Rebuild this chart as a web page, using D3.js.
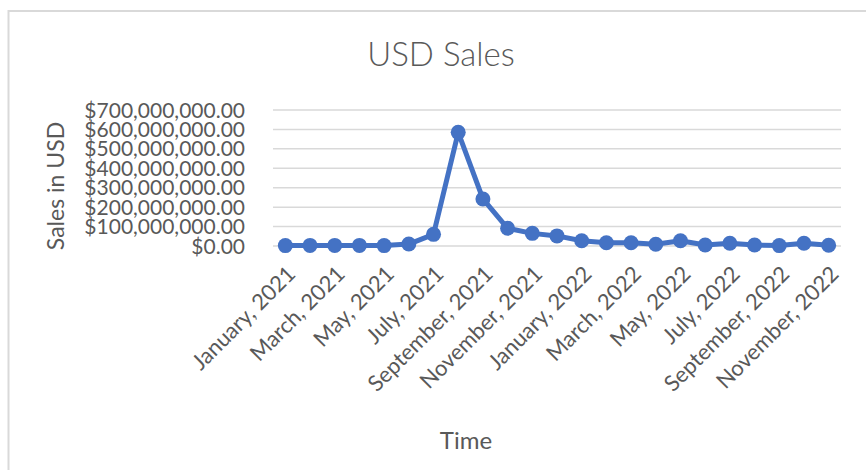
<!DOCTYPE html>
<html>
<head>
<meta charset="utf-8">
<script src="https://cdn.jsdelivr.net/npm/d3@7"></script>
<style>
  body { margin: 0; background: #fff; }
  text { font-family: Lato, "Open Sans", sans-serif; fill: #595959; }
</style>
</head>
<body>
<svg width="866" height="470"></svg>
<script>
// monthly USD sales, Jan 2021 .. Nov 2022
const months = ["January, 2021", "February, 2021", "March, 2021", "April, 2021", "May, 2021", "June, 2021",
    "July, 2021", "August, 2021", "September, 2021", "October, 2021", "November, 2021", "December, 2021",
    "January, 2022", "February, 2022", "March, 2022", "April, 2022", "May, 2022", "June, 2022",
    "July, 2022", "August, 2022", "September, 2022", "October, 2022", "November, 2022"];
const sales = [2e6, 3e6, 3e6, 3e6, 2e6, 10e6, 60e6, 585e6, 242e6, 91e6, 65e6, 52e6,
    27e6, 17e6, 17e6, 9e6, 27e6, 5e6, 14e6, 5e6, 2e6, 14e6, 4e6];
const yTicks = [0, 1e8, 2e8, 3e8, 4e8, 5e8, 6e8, 7e8];

const svg = d3.select("svg");
const margin = {left: 273, right: 25, top: 110, bottom: 224};

// chart frame (only top and left edges visible)
svg.append("path")
    .attr("d", "M8.5,470 V11 H866")
    .attr("fill", "none")
    .attr("stroke", "#d9d9d9")
    .attr("stroke-width", 2);

const xScale = d3.scalePoint()
    .domain(months)
    .range([margin.left, 866 - margin.right])
    .padding(0.5);
const yScale = d3.scaleLinear()
    .domain([0, 7e8])
    .range([470 - margin.bottom, margin.top]);

// gridlines
svg.append("g").selectAll("line")
    .data(yTicks)
    .join("line")
    .attr("x1", margin.left)
    .attr("x2", 866 - margin.right)
    .attr("y1", d => yScale(d))
    .attr("y2", d => yScale(d))
    .attr("stroke", "#d9d9d9")
    .attr("stroke-width", 1.5);

// y tick labels
const fmt = d3.format("$,.2f");
svg.append("g").selectAll("text")
    .data(yTicks)
    .join("text")
    .attr("x", 245)
    .attr("y", d => yScale(d))
    .attr("dy", "0.36em")
    .attr("text-anchor", "end")
    .style("font-size", "21px")
    .text(d => fmt(d));

// x labels, every other month
svg.append("g").selectAll("text")
    .data(months.filter((m, i) => i % 2 == 0))
    .join("text")
    .attr("transform", d => `translate(${xScale(d) + 6},${270}) rotate(-45)`)
    .attr("text-anchor", "end")
    .attr("dy", "0.35em")
    .style("font-size", "22px")
    .text(d => d);

// the line
const line = d3.line()
    .x((d, i) => xScale(months[i]))
    .y(d => yScale(d));
svg.append("path")
    .datum(sales)
    .attr("d", line)
    .attr("fill", "none")
    .attr("stroke", "#4472c4")
    .attr("stroke-width", 5)
    .attr("stroke-linejoin", "round");

svg.append("g").selectAll("circle")
    .data(sales)
    .join("circle")
    .attr("cx", (d, i) => xScale(months[i]))
    .attr("cy", d => yScale(d))
    .attr("r", 7.5)
    .attr("fill", "#4472c4");

// titles
svg.append("text")
    .attr("x", 441)
    .attr("y", 66)
    .attr("text-anchor", "middle")
    .style("font-size", "33px")
    .style("font-weight", 300)
    .text("USD Sales");

svg.append("text")
    .attr("transform", "translate(64,186) rotate(-90)")
    .attr("text-anchor", "middle")
    .style("font-size", "23px")
    .text("Sales in USD");

svg.append("text")
    .attr("x", 466)
    .attr("y", 449)
    .attr("text-anchor", "middle")
    .style("font-size", "24px")
    .text("Time");
</script>
</body>
</html>
